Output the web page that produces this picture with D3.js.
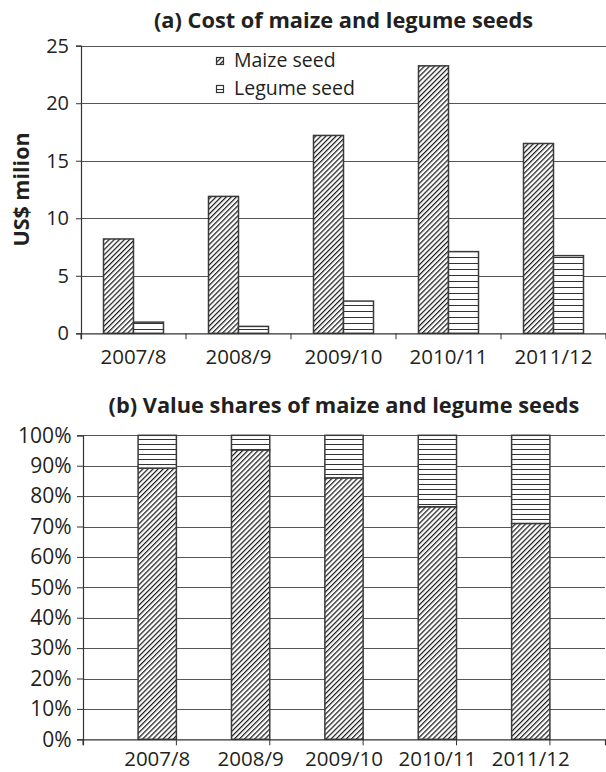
<!DOCTYPE html>
<html><head><meta charset="utf-8">
<script src="https://cdn.jsdelivr.net/npm/d3@7"></script>
<style>
body{margin:0;background:#fff}
text{font-family:"Open Sans",sans-serif;fill:#231f20}
</style>
</head><body>
<svg id="c" width="606" height="772"></svg>
<script>
// ---- data ----
const categories = ["2007/8", "2008/9", "2009/10", "2010/11", "2011/12"];
const seriesNames = ["Maize seed", "Legume seed"];
const maizeCost = [8.2, 11.9, 17.2, 23.25, 16.5];
const legumeCost = [0.97, 0.6, 2.8, 7.1, 6.75];
const maizeShare = [0.892, 0.952, 0.86, 0.765, 0.71];
const legumeShare = [0.108, 0.048, 0.14, 0.235, 0.29];
const costTicks = [0, 5, 10, 15, 20, 25];
const shareTicks = [0, 0.1, 0.2, 0.3, 0.4, 0.5, 0.6, 0.7, 0.8, 0.9, 1.0];
const titleA = "(a) Cost of maize and legume seeds";
const titleB = "(b) Value shares of maize and legume seeds";
const yTitleA = "US$ milion";

const svg = d3.select("#c");
const defs = svg.append("defs");
function diag(id, sp) {
  const p = defs.append("pattern").attr("id", id).attr("patternUnits", "userSpaceOnUse")
    .attr("width", sp).attr("height", 10).attr("patternTransform", "rotate(45)");
  p.append("rect").attr("width", sp).attr("height", 10).attr("fill", "#fff");
  p.append("line").attr("x1", 0.6).attr("x2", 0.6).attr("y1", 0).attr("y2", 10)
    .attr("stroke", "#1a1a1a").attr("stroke-width", 1.25);
}
function horiz(id, sp) {
  const p = defs.append("pattern").attr("id", id).attr("patternUnits", "userSpaceOnUse")
    .attr("width", 10).attr("height", sp);
  p.append("rect").attr("width", 10).attr("height", sp).attr("fill", "#fff");
  p.append("line").attr("x1", 0).attr("x2", 10).attr("y1", sp - 0.5).attr("y2", sp - 0.5)
    .attr("stroke", "#333").attr("stroke-width", 1);
}
diag("diag", 3.6);
horiz("hor6", 6);
horiz("hor5", 5);
const fills = ["url(#diag)", "url(#hor6)"];

// ---- Chart (a) ----
const ax = { l: 81, r: 606, t: 45.7, b: 333.3 };
const x0 = d3.scaleBand().domain(categories).range([ax.l, ax.r]).paddingInner(0.4286).paddingOuter(0.2143);
const x1 = d3.scaleBand().domain(seriesNames).range([0, x0.bandwidth()]);
const yA = d3.scaleLinear().domain([0, 25]).range([ax.b, ax.t]);

const gA = svg.append("g");
gA.append("g").selectAll("line").data(costTicks.filter(d => d > 0)).join("line")
  .attr("x1", ax.l).attr("x2", ax.r).attr("y1", d => Math.round(yA(d)) + 0.5).attr("y2", d => Math.round(yA(d)) + 0.5)
  .attr("stroke", "#555").attr("stroke-width", 1);

const costData = categories.map((c, i) => ({ c, vals: [maizeCost[i], legumeCost[i]] }));
gA.append("g").selectAll("g").data(costData).join("g")
  .attr("transform", d => `translate(${x0(d.c)},0)`)
  .selectAll("rect").data(d => d.vals.map((v, j) => ({ v, s: seriesNames[j], j }))).join("rect")
  .attr("x", d => x1(d.s)).attr("width", x1.bandwidth())
  .attr("y", d => yA(d.v)).attr("height", d => yA(0) - yA(d.v))
  .attr("fill", d => fills[d.j]).attr("stroke", "#3a3a3a").attr("stroke-width", 1.5);

const yAxA = gA.append("g").attr("transform", `translate(${ax.l},0)`)
  .call(d3.axisLeft(yA).tickValues(costTicks).tickSize(5).tickPadding(7));
yAxA.selectAll(".tick text").attr("font-size", 20);
const xAxisA = gA.append("g").attr("transform", `translate(0,${ax.b})`)
  .call(d3.axisBottom(x0).tickSize(6).tickPadding(10.5));
xAxisA.selectAll(".tick line").remove();
xAxisA.selectAll(".tick text").attr("font-size", 20.5);
xAxisA.append("g").selectAll("line").data(categories.concat(["end"])).join("line")
  .attr("x1", (d, i) => ax.l + i * x0.step()).attr("x2", (d, i) => ax.l + i * x0.step())
  .attr("y1", 0).attr("y2", 6).attr("stroke", "#333");

gA.append("text").attr("x", (ax.l + ax.r) / 2).attr("y", 28).attr("text-anchor", "middle")
  .attr("font-weight", "bold").attr("font-size", 21.8).text(titleA);
gA.append("text").attr("transform", `translate(29,${(ax.t + ax.b) / 2}) rotate(-90)`)
  .attr("text-anchor", "middle").attr("font-weight", "bold").attr("font-size", 21.5).text(yTitleA);

// legend
const lg = gA.append("g").attr("transform", "translate(216,57)");
seriesNames.forEach((s, i) => {
  const r = lg.append("g").attr("transform", `translate(0,${i * 28})`);
  r.append("rect").attr("x", 0.5).attr("y", 0.5).attr("width", 7).attr("height", 7)
    .attr("fill", i === 0 ? "url(#diag)" : "url(#hor5)").attr("stroke", "#333").attr("stroke-width", 1.2);
  r.append("text").attr("x", 18).attr("y", 10).attr("font-size", 19.5).text(s);
});

// ---- Chart (b) ----
const bx = { l: 83, r: 605, t: 435.3, b: 739.3 };
const xB = d3.scaleBand().domain(categories).range([bx.l, bx.r]).padding(0.59);
const yB = d3.scaleLinear().domain([0, 1]).range([bx.b, bx.t]);
const gB = svg.append("g");
gB.append("g").selectAll("line").data(shareTicks.filter(d => d > 0)).join("line")
  .attr("x1", bx.l).attr("x2", bx.r).attr("y1", d => Math.round(yB(d)) + 0.5).attr("y2", d => Math.round(yB(d)) + 0.5)
  .attr("stroke", "#555").attr("stroke-width", 1);

const stackData = categories.map((c, i) => ({ c, maize: maizeShare[i], legume: legumeShare[i] }));
const stacked = d3.stack().keys(["maize", "legume"])(stackData);
const fillsB = ["url(#diag)", "url(#hor5)"];
gB.append("g").selectAll("g").data(stacked).join("g")
  .attr("fill", (d, i) => fillsB[i])
  .selectAll("rect").data(d => d).join("rect")
  .attr("x", d => xB(d.data.c)).attr("width", xB.bandwidth())
  .attr("y", d => yB(d[1])).attr("height", d => yB(d[0]) - yB(d[1]))
  .attr("stroke", "#3a3a3a").attr("stroke-width", 1.5);

const yAxB = gB.append("g").attr("transform", `translate(${bx.l},0)`)
  .call(d3.axisLeft(yB).tickValues(shareTicks).tickFormat(d3.format(".0%")).tickSize(6).tickPadding(5.5));
yAxB.selectAll(".tick text").attr("font-size", 21);
const xAxisB = gB.append("g").attr("transform", `translate(0,${bx.b})`)
  .call(d3.axisBottom(xB).tickSize(6).tickPadding(6));
xAxisB.selectAll(".tick line").remove();
xAxisB.selectAll(".tick text").attr("font-size", 20.5);
xAxisB.append("g").selectAll("line").data(categories.concat(["end"])).join("line")
  .attr("x1", (d, i) => bx.l + i * xB.step()).attr("x2", (d, i) => bx.l + i * xB.step())
  .attr("y1", 0).attr("y2", 6).attr("stroke", "#333");

gB.append("text").attr("x", (bx.l + bx.r) / 2).attr("y", 413).attr("text-anchor", "middle")
  .attr("font-weight", "bold").attr("font-size", 21.8).text(titleB);

// axis styling
svg.selectAll(".domain").attr("stroke", "#333").attr("stroke-width", 1.2);
svg.selectAll(".tick line").attr("stroke", "#333");
svg.selectAll(".tick text").attr("fill", "#231f20").attr("font-family", "Open Sans, sans-serif");
</script>
</body></html>
